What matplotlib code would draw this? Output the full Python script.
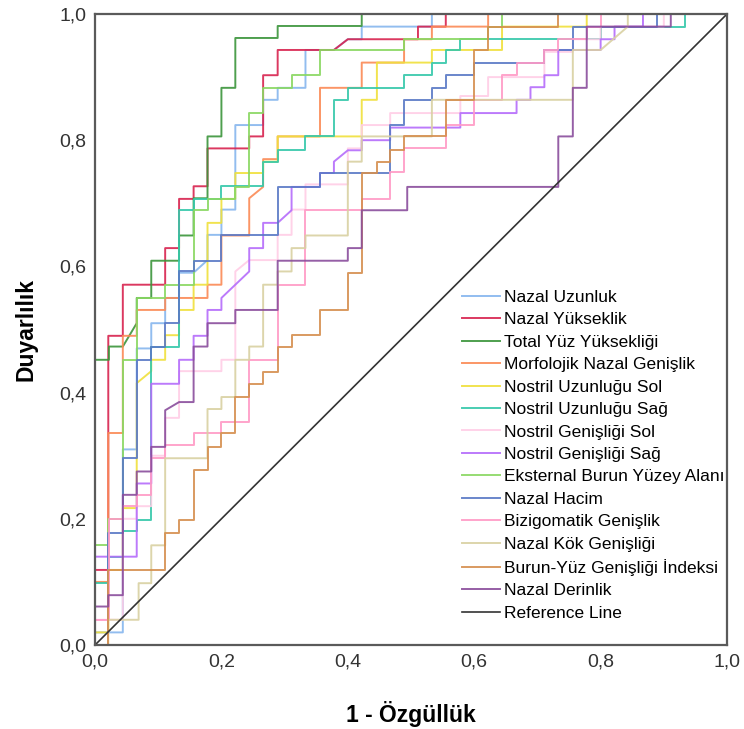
import matplotlib
matplotlib.use("Agg")
import matplotlib.pyplot as plt

plt.rcParams['font.family'] = ['Liberation Sans', 'DejaVu Sans']

# ROC egrileri (1 - ozgulluk, duyarlilik)
nazal_uzunluk_x = [0, 0, 0.044, 0.044, 0.066, 0.066, 0.089, 0.089, 0.111, 0.111, 0.133, 0.133, 0.156, 0.178, 0.178, 0.2, 0.2, 0.222, 0.222, 0.266, 0.266, 0.289, 0.289, 0.333, 0.333, 0.378, 0.4, 0.422, 0.422, 0.533, 0.533, 1]
nazal_uzunluk_y = [0, 0.02, 0.02, 0.31, 0.31, 0.47, 0.47, 0.51, 0.51, 0.55, 0.55, 0.59, 0.59, 0.61, 0.65, 0.65, 0.69, 0.69, 0.824, 0.824, 0.864, 0.864, 0.883, 0.883, 0.943, 0.943, 0.96, 0.96, 0.98, 0.98, 1, 1]

nazal_yukseklik_x = [0, 0, 0.021, 0.021, 0.044, 0.044, 0.111, 0.111, 0.133, 0.133, 0.156, 0.156, 0.178, 0.178, 0.244, 0.244, 0.266, 0.266, 0.289, 0.289, 0.378, 0.4, 0.511, 0.511, 0.555, 0.555, 1]
nazal_yukseklik_y = [0, 0.119, 0.119, 0.49, 0.49, 0.571, 0.571, 0.629, 0.629, 0.707, 0.707, 0.727, 0.727, 0.787, 0.787, 0.806, 0.806, 0.903, 0.903, 0.943, 0.943, 0.96, 0.96, 0.98, 0.98, 1, 1]

total_yuz_x = [0, 0, 0.022, 0.022, 0.044, 0.066, 0.066, 0.089, 0.089, 0.133, 0.133, 0.156, 0.156, 0.178, 0.178, 0.2, 0.2, 0.222, 0.222, 0.289, 0.289, 0.422, 0.422, 1]
total_yuz_y = [0, 0.452, 0.452, 0.473, 0.473, 0.51, 0.55, 0.55, 0.609, 0.609, 0.649, 0.649, 0.708, 0.708, 0.806, 0.806, 0.883, 0.883, 0.962, 0.962, 0.981, 0.981, 1, 1]

morfolojik_x = [0, 0, 0.021, 0.021, 0.044, 0.044, 0.066, 0.066, 0.111, 0.111, 0.178, 0.178, 0.2, 0.2, 0.244, 0.244, 0.266, 0.266, 0.289, 0.289, 0.356, 0.356, 0.422, 0.422, 0.489, 0.489, 0.533, 0.533, 0.622, 0.622, 1]
morfolojik_y = [0, 0.1, 0.1, 0.336, 0.336, 0.49, 0.49, 0.531, 0.531, 0.55, 0.55, 0.571, 0.571, 0.649, 0.649, 0.708, 0.726, 0.77, 0.77, 0.806, 0.806, 0.883, 0.883, 0.923, 0.923, 0.96, 0.96, 0.98, 0.98, 1, 1]

nostril_uz_sol_x = [0, 0, 0.021, 0.021, 0.044, 0.044, 0.066, 0.066, 0.089, 0.089, 0.111, 0.111, 0.133, 0.133, 0.156, 0.156, 0.178, 0.178, 0.2, 0.2, 0.222, 0.222, 0.266, 0.266, 0.289, 0.289, 0.422, 0.422, 0.446, 0.446, 0.533, 0.533, 0.644, 0.644, 0.778, 0.778, 1]
nostril_uz_sol_y = [0, 0.02, 0.02, 0.119, 0.119, 0.217, 0.217, 0.415, 0.434, 0.452, 0.452, 0.491, 0.491, 0.531, 0.531, 0.571, 0.571, 0.669, 0.669, 0.707, 0.707, 0.748, 0.748, 0.766, 0.766, 0.806, 0.806, 0.864, 0.864, 0.923, 0.923, 0.943, 0.943, 0.98, 0.98, 1, 1]

nostril_uz_sag_x = [0, 0, 0.021, 0.021, 0.044, 0.044, 0.066, 0.066, 0.089, 0.089, 0.133, 0.133, 0.156, 0.156, 0.2, 0.2, 0.266, 0.266, 0.289, 0.289, 0.333, 0.333, 0.378, 0.378, 0.4, 0.4, 0.489, 0.489, 0.533, 0.533, 0.555, 0.555, 0.578, 0.578, 0.8, 0.8, 0.933, 0.933, 1]
nostril_uz_sag_y = [0, 0.098, 0.098, 0.14, 0.14, 0.18, 0.18, 0.198, 0.198, 0.473, 0.473, 0.689, 0.689, 0.707, 0.707, 0.727, 0.727, 0.766, 0.766, 0.784, 0.784, 0.806, 0.806, 0.864, 0.864, 0.883, 0.883, 0.903, 0.903, 0.923, 0.923, 0.943, 0.943, 0.96, 0.96, 0.98, 0.98, 1, 1]

nostril_gen_sol_x = [0, 0, 0.044, 0.044, 0.066, 0.066, 0.089, 0.089, 0.111, 0.111, 0.133, 0.133, 0.2, 0.2, 0.222, 0.222, 0.244, 0.289, 0.289, 0.311, 0.311, 0.333, 0.333, 0.4, 0.4, 0.422, 0.422, 0.467, 0.467, 0.578, 0.578, 0.622, 0.622, 0.711, 0.711, 0.756, 0.756, 0.8, 0.8, 0.9, 0.9, 1]
nostril_gen_sol_y = [0, 0.04, 0.04, 0.2, 0.2, 0.22, 0.22, 0.3, 0.3, 0.36, 0.36, 0.434, 0.434, 0.452, 0.452, 0.592, 0.61, 0.61, 0.65, 0.65, 0.69, 0.69, 0.73, 0.73, 0.787, 0.787, 0.824, 0.824, 0.843, 0.843, 0.87, 0.87, 0.9, 0.9, 0.94, 0.94, 0.96, 0.96, 0.98, 0.98, 1, 1]

nostril_gen_sag_x = [0, 0, 0.066, 0.066, 0.089, 0.089, 0.133, 0.133, 0.156, 0.156, 0.178, 0.178, 0.2, 0.2, 0.244, 0.244, 0.266, 0.266, 0.289, 0.311, 0.311, 0.356, 0.356, 0.378, 0.378, 0.4, 0.422, 0.422, 0.467, 0.467, 0.578, 0.578, 0.667, 0.667, 0.689, 0.689, 0.711, 0.711, 0.733, 0.733, 0.8, 0.8, 0.822, 0.822, 0.867, 0.867, 1]
nostril_gen_sag_y = [0, 0.14, 0.14, 0.256, 0.256, 0.414, 0.414, 0.452, 0.452, 0.49, 0.49, 0.531, 0.531, 0.55, 0.592, 0.629, 0.629, 0.669, 0.669, 0.689, 0.726, 0.726, 0.748, 0.748, 0.766, 0.784, 0.784, 0.80, 0.80, 0.82, 0.82, 0.843, 0.843, 0.864, 0.864, 0.884, 0.884, 0.903, 0.903, 0.943, 0.943, 0.96, 0.96, 0.98, 0.98, 1, 1]

eksternal_x = [0, 0, 0.021, 0.021, 0.044, 0.044, 0.066, 0.066, 0.111, 0.111, 0.156, 0.156, 0.178, 0.178, 0.222, 0.222, 0.244, 0.244, 0.266, 0.266, 0.311, 0.311, 0.356, 0.356, 0.489, 0.489, 0.622, 0.622, 0.644, 0.644, 1]
eksternal_y = [0, 0.158, 0.158, 0.2, 0.2, 0.452, 0.452, 0.55, 0.55, 0.571, 0.571, 0.689, 0.689, 0.707, 0.707, 0.726, 0.726, 0.843, 0.843, 0.883, 0.883, 0.903, 0.903, 0.943, 0.943, 0.96, 0.96, 0.98, 0.98, 1, 1]

nazal_hacim_x = [0, 0.021, 0.021, 0.044, 0.044, 0.066, 0.066, 0.089, 0.089, 0.111, 0.111, 0.133, 0.133, 0.156, 0.156, 0.2, 0.2, 0.289, 0.289, 0.356, 0.356, 0.467, 0.467, 0.489, 0.489, 0.533, 0.533, 0.555, 0.555, 0.6, 0.6, 0.711, 0.711, 0.756, 0.756, 0.889, 0.889, 1]
nazal_hacim_y = [0, 0, 0.177, 0.177, 0.296, 0.296, 0.452, 0.452, 0.473, 0.473, 0.51, 0.51, 0.592, 0.592, 0.609, 0.609, 0.649, 0.649, 0.726, 0.726, 0.748, 0.748, 0.824, 0.824, 0.864, 0.864, 0.883, 0.883, 0.903, 0.903, 0.923, 0.923, 0.943, 0.943, 0.98, 0.98, 1, 1]

bizigomatik_x = [0, 0, 0.022, 0.022, 0.044, 0.044, 0.066, 0.066, 0.089, 0.089, 0.111, 0.111, 0.156, 0.156, 0.2, 0.2, 0.244, 0.244, 0.289, 0.289, 0.333, 0.333, 0.422, 0.422, 0.467, 0.467, 0.489, 0.489, 0.555, 0.555, 0.6, 0.6, 0.644, 0.644, 0.667, 0.667, 0.711, 0.711, 0.733, 0.733, 0.778, 0.778, 0.8, 0.8, 1]
bizigomatik_y = [0, 0.04, 0.04, 0.2, 0.2, 0.22, 0.22, 0.238, 0.238, 0.296, 0.296, 0.317, 0.317, 0.336, 0.336, 0.354, 0.354, 0.452, 0.452, 0.57, 0.57, 0.689, 0.689, 0.707, 0.707, 0.75, 0.75, 0.787, 0.787, 0.824, 0.824, 0.864, 0.864, 0.903, 0.903, 0.923, 0.923, 0.943, 0.943, 0.96, 0.96, 0.98, 0.98, 1, 1]

nazal_kok_x = [0, 0.021, 0.021, 0.069, 0.069, 0.089, 0.089, 0.111, 0.111, 0.178, 0.178, 0.2, 0.2, 0.222, 0.222, 0.244, 0.244, 0.266, 0.266, 0.289, 0.289, 0.311, 0.311, 0.333, 0.333, 0.4, 0.4, 0.422, 0.422, 0.533, 0.533, 0.756, 0.756, 0.8, 0.843, 0.843, 1]
nazal_kok_y = [0, 0, 0.04, 0.04, 0.098, 0.098, 0.158, 0.158, 0.296, 0.296, 0.374, 0.374, 0.393, 0.393, 0.452, 0.452, 0.473, 0.473, 0.571, 0.571, 0.592, 0.592, 0.629, 0.629, 0.649, 0.649, 0.766, 0.766, 0.806, 0.806, 0.864, 0.864, 0.943, 0.943, 0.98, 1, 1]

burun_yuz_x = [0, 0.021, 0.021, 0.111, 0.111, 0.133, 0.133, 0.156, 0.156, 0.178, 0.178, 0.2, 0.2, 0.222, 0.222, 0.244, 0.244, 0.266, 0.266, 0.289, 0.289, 0.311, 0.311, 0.356, 0.356, 0.4, 0.4, 0.422, 0.422, 0.446, 0.446, 0.467, 0.467, 0.489, 0.489, 0.555, 0.555, 0.6, 0.6, 0.622, 0.622, 0.733, 0.733, 1]
burun_yuz_y = [0, 0, 0.119, 0.119, 0.177, 0.177, 0.198, 0.198, 0.277, 0.277, 0.314, 0.314, 0.336, 0.336, 0.393, 0.393, 0.414, 0.414, 0.433, 0.433, 0.473, 0.473, 0.491, 0.491, 0.531, 0.531, 0.59, 0.59, 0.748, 0.748, 0.766, 0.766, 0.784, 0.784, 0.806, 0.806, 0.864, 0.864, 0.943, 0.943, 0.98, 0.98, 1, 1]

nazal_derinlik_x = [0, 0, 0.021, 0.021, 0.044, 0.044, 0.066, 0.066, 0.089, 0.089, 0.111, 0.111, 0.133, 0.156, 0.156, 0.178, 0.178, 0.222, 0.222, 0.289, 0.289, 0.4, 0.4, 0.422, 0.422, 0.494, 0.494, 0.733, 0.733, 0.756, 0.756, 0.778, 0.778, 0.911, 0.911, 1]
nazal_derinlik_y = [0, 0.061, 0.061, 0.079, 0.079, 0.238, 0.238, 0.275, 0.275, 0.314, 0.314, 0.372, 0.385, 0.385, 0.473, 0.473, 0.51, 0.51, 0.531, 0.531, 0.609, 0.609, 0.629, 0.629, 0.689, 0.689, 0.726, 0.726, 0.806, 0.806, 0.883, 0.883, 0.98, 0.98, 1, 1]

ref_x = [0, 1]
ref_y = [0, 1]

series = [
    ("Nazal Uzunluk", nazal_uzunluk_x, nazal_uzunluk_y, "#86b6ee"),
    ("Nazal Yükseklik", nazal_yukseklik_x, nazal_yukseklik_y, "#d8234f"),
    ("Total Yüz Yüksekliği", total_yuz_x, total_yuz_y, "#3b953b"),
    ("Morfolojik Nazal Genişlik", morfolojik_x, morfolojik_y, "#fb8a55"),
    ("Nostril Uzunluğu Sol", nostril_uz_sol_x, nostril_uz_sol_y, "#f0e03c"),
    ("Nostril Uzunluğu Sağ", nostril_uz_sag_x, nostril_uz_sag_y, "#35c8aa"),
    ("Nostril Genişliği Sol", nostril_gen_sol_x, nostril_gen_sol_y, "#ffcde6"),
    ("Nostril Genişliği Sağ", nostril_gen_sag_x, nostril_gen_sag_y, "#b56cfb"),
    ("Eksternal Burun Yüzey Alanı", eksternal_x, eksternal_y, "#8ad863"),
    ("Nazal Hacim", nazal_hacim_x, nazal_hacim_y, "#5a79c6"),
    ("Bizigomatik Genişlik", bizigomatik_x, bizigomatik_y, "#ff9ac6"),
    ("Nazal Kök Genişliği", nazal_kok_x, nazal_kok_y, "#d9d1a2"),
    ("Burun-Yüz Genişliği İndeksi", burun_yuz_x, burun_yuz_y, "#d58f4f"),
    ("Nazal Derinlik", nazal_derinlik_x, nazal_derinlik_y, "#8a4d9c"),
]

fig = plt.figure(figsize=(7.44, 7.29), dpi=100)
ax = fig.add_axes([0.1277, 0.1152, 0.8495, 0.8656])

for name, xs, ys, col in series:
    ax.plot(xs, ys, color=col, lw=1.4, alpha=0.9, label=name)
ax.plot(ref_x, ref_y, color="#333333", lw=1.2, label="Reference Line")

ax.set_xlim(0, 1)
ax.set_ylim(0, 1)
ticks = [0, 0.2, 0.4, 0.6, 0.8, 1.0]
labels = [f"{t:.1f}".replace(".", ",") for t in ticks]
ax.set_xticks(ticks)
ax.set_xticklabels(labels)
ax.set_yticks(ticks)
ax.set_yticklabels(labels)
ax.tick_params(labelsize=14, length=0, pad=6, labelcolor="#333333")

for sp in ax.spines.values():
    sp.set_color("#5a5a5a")
    sp.set_linewidth(1.6)

ax.set_xlabel("1 - Özgüllük", fontsize=16.5, fontweight="bold", labelpad=22)
ax.set_ylabel("Duyarlılık", fontsize=16.5, fontweight="bold", labelpad=16)

ax.legend(loc="upper left", bbox_to_anchor=(0.581, 0.563), frameon=False,
          fontsize=12.5, handlelength=2.2, handletextpad=0.2,
          labelspacing=0.42, borderpad=0, borderaxespad=0)

fig.savefig("out.png", dpi=100)
